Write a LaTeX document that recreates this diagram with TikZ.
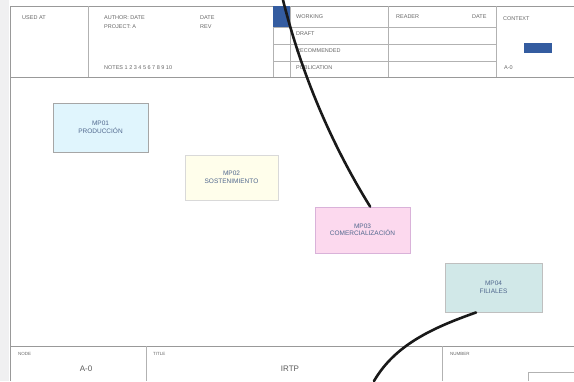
\documentclass[tikz,border=0pt]{standalone}
\usepackage{fontspec}
\setmainfont{Liberation Sans}
\definecolor{formblue}{RGB}{52,92,160}
\begin{document}
\begin{tikzpicture}[x=1pt,y=-1pt,
  frame/.style={draw=black!40,line width=0.8pt},
  thin/.style={draw=black!30,line width=0.6pt},
  lbl/.style={inner sep=0pt,anchor=west,text=black!60,font=\fontsize{5.5}{6.5}\selectfont},
  val/.style={inner sep=0pt,text=black!65,font=\fontsize{8}{9}\selectfont},
  proc/.style={draw,line width=0.9pt,minimum width=95pt,minimum height=47pt,inner sep=1pt,align=center,
     text=formblue!70!black!80,font=\fontsize{6.5}{7.5}\selectfont},
  flow/.style={draw=black!90,line width=2.6pt,line cap=round}]
\useasboundingbox (0,0) rectangle (574,381);
\fill[blue!8!black!6] (0,0) rectangle (9,381);
% header frame
\draw[frame] (10,6) -- (574,6);
\draw[frame] (10,6) -- (10,381);
\draw[frame] (10,77) -- (574,77);
\draw[thin] (88,6) -- (88,77);
\draw[thin] (273,6) -- (273,77);
\draw[thin] (290,6) -- (290,77);
\draw[thin] (388,6) -- (388,77);
\draw[thin] (496,6) -- (496,77);
\foreach \yy in {27,44,61} \draw[thin] (273,\yy) -- (496,\yy);
\fill[formblue] (273,6) rectangle (290,27);
% header texts
\node[lbl] (usedat) at (22,18) {USED AT};
\node[lbl] (author) at (104,18) {AUTHOR: DATE};
\node[lbl] (last) at (200,18) {DATE};
\node[lbl] (project) at (104,27) {PROJECT: A};
\node[lbl] (rev) at (200,27) {REV};
\node[lbl] (notes) at (104,68) {NOTES 1 2 3 4 5 6 7 8 9 10};
\node[lbl] (working) at (296,17) {WORKING};
\node[lbl] (draft) at (296,34) {DRAFT};
\node[lbl] (recom) at (296,51) {RECOMMENDED};
\node[lbl] (publ) at (296,68) {PUBLICATION};
\node[lbl] (reader) at (396,17) {READER};
\node[lbl] (date) at (472,17) {DATE};
\node[lbl] (context) at (503,19) {CONTEXT};
\node[fill=formblue,minimum width=28pt,minimum height=10pt,inner sep=0pt] (ctxbox) at (538,48) {};
\node[lbl] (ctxnode) at (504,68) {A-0};
% footer
\draw[frame] (10,346) -- (574,346);
\draw[thin] (146,346) -- (146,381);
\draw[thin] (442,346) -- (442,381);
\draw[thin] (528,372) -- (574,372);
\draw[thin] (528,372) -- (528,381);
\node[lbl,font=\fontsize{4.5}{5}\selectfont] (node) at (18,354) {NODE};
\node[val] (nodeval) at (86,369) {A-0};
\node[lbl,font=\fontsize{4.5}{5}\selectfont] (title) at (153,354) {TITLE};
\node[val] (titleval) at (290,369) {IRTP};
\node[lbl,font=\fontsize{4.5}{5}\selectfont] (number) at (450,354) {NUMBER};
% processes
\node[proc,draw=black!35,fill=cyan!12!white,minimum width=95pt,minimum height=49pt] (mp1) at (100.5,127.5) {MP01\\PRODUCCIÓN};
\node[proc,draw=black!15,fill=yellow!8!white,minimum width=93pt,minimum height=45pt] (mp2) at (231.5,177.5) {MP02\\SOSTENIMIENTO};
\node[proc,draw=violet!30,fill=magenta!15!white,minimum width=95pt,minimum height=46pt] (mp3) at (362.5,230) {MP03\\COMERCIALIZACIÓN};
\node[proc,draw=black!25,fill=teal!18!white,minimum width=97pt,minimum height=49pt] (mp4) at (493.5,287.5) {MP04\\FILIALES};
% flows
\coordinate (topin) at (283,0);
\coordinate (botout) at (374,381);
\draw[flow] (topin) .. controls (303,80) and (335,150) .. (mp3.72);
\draw[flow] (mp4.235) .. controls (432,328) and (395,345) .. (botout);
\end{tikzpicture}
\end{document}
